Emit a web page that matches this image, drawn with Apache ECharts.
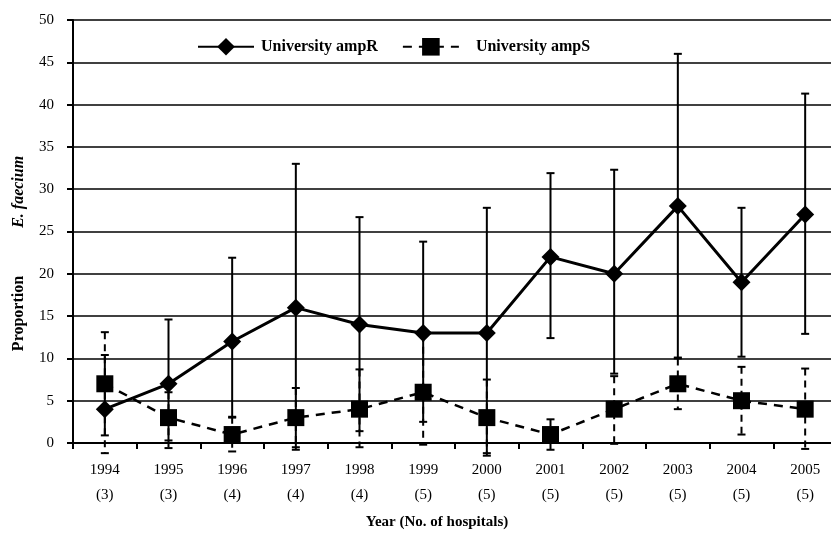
<!DOCTYPE html>
<html>
<head>
<meta charset="utf-8">
<script src="https://cdn.jsdelivr.net/npm/echarts@6/dist/echarts.min.js"></script>
<style>
  html, body { margin: 0; padding: 0; background: #fff; }
  #chart { width: 831px; height: 533px; }
</style>
</head>
<body>
<div id="chart"></div>
<script>
// data
var years = ['1994', '1995', '1996', '1997', '1998', '1999', '2000', '2001', '2002', '2003', '2004', '2005'];
var hospitals = [3, 3, 4, 4, 4, 5, 5, 5, 5, 5, 5, 5];
var yTicks = [0, 5, 10, 15, 20, 25, 30, 35, 40, 45, 50];

var ampR = [4, 7, 12, 16, 14, 13, 13, 22, 20, 28, 19, 27];
var ampRLow = [0.9, 0.3, 3.0, -0.5, 1.4, 2.5, -1.2, 12.4, 8.2, 10.1, 10.2, 12.9];
var ampRHigh = [10.4, 14.6, 21.9, 33.0, 26.7, 23.8, 27.8, 31.9, 32.3, 46.0, 27.8, 41.3];

var ampS = [7, 3, 1, 3, 4, 6, 3, 1, 4, 7, 5, 4];
var ampSLow = [-1.2, -0.6, -1.0, -0.8, -0.5, -0.2, -1.5, -0.8, -0.1, 4.0, 1.0, -0.7];
var ampSHigh = [13.1, 6.0, 3.1, 6.5, 8.7, 12.8, 7.5, 2.8, 7.9, 10.0, 9.0, 8.8];

var serif = 'Liberation Serif';

function errData(low, high) {
  return years.map(function (y, i) { return [i, low[i], high[i]]; });
}

// vertical bar with a cap at each end
function errRender(dash) {
  return function (params, api) {
    var lo = api.coord([api.value(0), api.value(1)]);
    var hi = api.coord([api.value(0), api.value(2)]);
    var w = 4;
    var style = { stroke: '#000', lineWidth: 2, lineDash: dash };
    return {
      type: 'group',
      children: [
        { type: 'line', shape: { x1: hi[0], y1: hi[1], x2: lo[0], y2: lo[1] }, style: style },
        { type: 'line', shape: { x1: hi[0] - w, y1: hi[1], x2: hi[0] + w, y2: hi[1] }, style: { stroke: '#000', lineWidth: 2 } },
        { type: 'line', shape: { x1: lo[0] - w, y1: lo[1], x2: lo[0] + w, y2: lo[1] }, style: { stroke: '#000', lineWidth: 2 } }
      ]
    };
  };
}

var chart = echarts.init(document.getElementById('chart'));

chart.setOption({
  animation: false,
  backgroundColor: '#fff',
  textStyle: { fontFamily: serif, color: '#000' },
  grid: { left: 73, right: -6, top: 20, bottom: 90, outerBoundsMode: 'none', containLabel: false },
  legend: {
    data: [
      { name: 'University ampR' },
      { name: 'University ampS', textStyle: { padding: [0, 0, 0, 12] } }
    ],
    top: 33,
    left: 192,
    itemWidth: 56,
    itemHeight: 22,
    itemGap: 24,
    textStyle: { fontFamily: serif, fontWeight: 'bold', fontSize: 16, color: '#000', padding: [0, 0, 0, 2] }
  },
  xAxis: {
    type: 'category',
    data: years,
    boundaryGap: true,
    name: 'Year (No. of hospitals)',
    nameLocation: 'middle',
    nameGap: 72,
    nameTextStyle: { fontFamily: serif, fontWeight: 'bold', fontSize: 15, color: '#000', padding: [0, 36, 0, 0] },
    axisLine: { lineStyle: { color: '#000', width: 2 } },
    axisTick: { show: true, length: 6, alignWithLabel: false, lineStyle: { color: '#000', width: 2 } },
    axisLabel: {
      margin: 15,
      fontSize: 15,
      lineHeight: 25,
      color: '#000',
      formatter: function (v, i) { return v + '\n(' + hospitals[i] + ')'; }
    },
    splitLine: { show: false }
  },
  yAxis: {
    type: 'value',
    min: yTicks[0],
    max: yTicks[yTicks.length - 1],
    interval: 5,
    name: '{a|Proportion}{g|}{b|E. faecium}',
    nameLocation: 'middle',
    nameGap: 46,
    nameRotate: 90,
    nameTextStyle: {
      padding: [0, 44, 0, 0],
      rich: {
        a: { fontFamily: serif, fontWeight: 'bold', fontSize: 16, color: '#000' },
        g: { width: 48 },
        b: { fontFamily: serif, fontWeight: 'bold', fontStyle: 'italic', fontSize: 16, color: '#000' }
      }
    },
    axisLine: { show: true, lineStyle: { color: '#000', width: 2 } },
    axisTick: { show: true, length: 6, lineStyle: { color: '#000', width: 2 } },
    axisLabel: { margin: 19, fontSize: 15, color: '#000' },
    splitLine: { show: true, lineStyle: { color: '#000', width: 1.5 } }
  },
  series: [
    {
      name: 'errR',
      type: 'custom',
      renderItem: errRender(null),
      encode: { x: 0, y: [1, 2] },
      data: errData(ampRLow, ampRHigh),
      z: 1,
      silent: true
    },
    {
      name: 'errS',
      type: 'custom',
      renderItem: errRender([7, 5]),
      encode: { x: 0, y: [1, 2] },
      data: errData(ampSLow, ampSHigh),
      z: 1,
      silent: true
    },
    {
      name: 'University ampR',
      type: 'line',
      data: ampR,
      symbol: 'diamond',
      symbolSize: 18,
      z: 3,
      lineStyle: { color: '#000', width: 3 },
      itemStyle: { color: '#000' }
    },
    {
      name: 'University ampS',
      type: 'line',
      data: ampS,
      symbol: 'rect',
      symbolSize: 17,
      z: 3,
      lineStyle: { color: '#000', width: 2.5, type: [9, 7] },
      itemStyle: { color: '#000' }
    }
  ]
});
</script>
</body>
</html>
